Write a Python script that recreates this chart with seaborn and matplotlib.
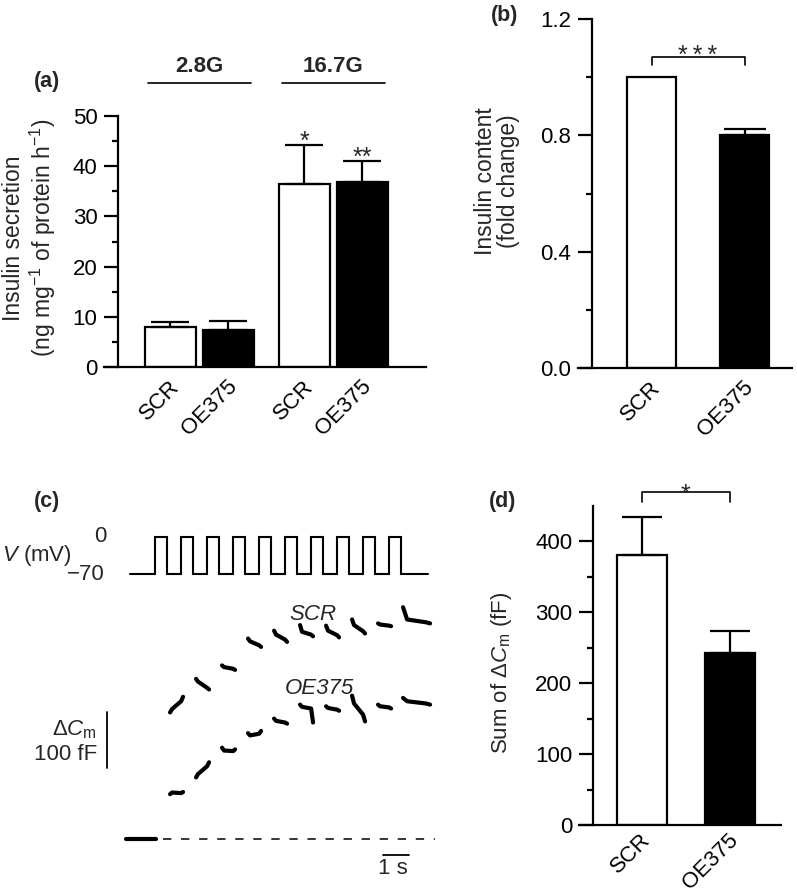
import numpy as np
import pandas as pd
import matplotlib
matplotlib.use("Agg")
import matplotlib.pyplot as plt
import seaborn as sns
from matplotlib.ticker import FixedLocator, FormatStrFormatter
from matplotlib.transforms import ScaledTranslation

# ------------------------------------------------------------------ data
# (a) insulin secretion, order: 2.8G SCR, 2.8G OE375, 16.7G SCR, 16.7G OE375
a_groups = ["2.8G", "16.7G"]
a_constructs = ["SCR", "OE375"]
a_mean = [8.0, 7.3, 36.5, 36.9]
a_sem = [1.0, 1.8, 7.8, 4.1]
a_stars = ["", "", "*", "**"]

# (b) insulin content
b_labels = ["SCR", "OE375"]
b_mean = [1.0, 0.80]
b_sem = [0.0, 0.022]
b_star = "*\u2009*\u2009*"

# (c) capacitance recording
pulse_onsets_s = [0, 1, 2, 3, 4, 5, 6, 7, 8, 9]
pulse_width_s = 0.48
v_hold_mV = -70
v_step_mV = 0
seg_start_s = [0.58, 1.58, 2.58, 3.58, 4.58, 5.58, 6.58, 7.58, 8.58, 9.54]
seg_end_s = [1.08, 2.08, 3.08, 4.08, 5.08, 6.08, 7.08, 8.08, 9.08, 10.58]
seg_frac = [0.0, 0.15, 0.85, 1.0]
scr_fF = [
    [226, 232, 246, 254],
    [286, 281, 270, 267],
    [310, 307, 304, 302],
    [358, 353, 346, 343],
    [372, 365, 356, 352],
    [382, 370, 365, 362],
    [381, 372, 364, 360],
    [392, 382, 371, 367],
    [385, 383, 381, 380],
    [414, 392, 387, 385],
]
oe_fF = [
    [80, 83, 82, 84],
    [110, 116, 130, 137],
    [163, 158, 157, 160],
    [189, 185, 188, 193],
    [215, 211, 208, 206],
    [240, 236, 233, 208],
    [237, 234, 231, 229],
    [256, 242, 222, 210],
    [240, 237, 235, 233],
    [252, 246, 242, 240],
]
pre_span_s = [-1.12, 0.04]
baseline_span_s = [0.30, 10.78]
scale_cap_fF = 100
scale_time_s = 1

# (d) sum of capacitance
d_labels = ["SCR", "OE375"]
d_mean = [381, 243]
d_sem = [53, 30]
d_star = "*"

# ------------------------------------------------------------------ style
sns.set_theme(style="ticks")
plt.rcParams["font.family"] = ["Liberation Sans", "DejaVu Sans"]
plt.rcParams["mathtext.fontset"] = "custom"
plt.rcParams["mathtext.rm"] = "Liberation Sans"
plt.rcParams["mathtext.it"] = "Liberation Sans:italic"
plt.rcParams["mathtext.bf"] = "Liberation Sans:bold"
plt.rcParams["lines.scale_dashes"] = False

W, H = 797, 892
fig = plt.figure(figsize=(W / 100, H / 100), dpi=100)
fig.patch.set_facecolor("white")


def rect(l, t, r, b):
    return [l / W, 1 - b / H, (r - l) / W, (b - t) / H]


def fx(px):
    return px / W


def fy(py):
    return 1 - py / H


LW = 1.6
FS = 16
STAR_FS = 18


def style_bar_axis(ax, xlim, spine_x, ylim, major, minor):
    ax.set_xlim(*xlim)
    ax.set_ylim(*ylim)
    ax.spines["left"].set_position(("data", spine_x))
    for s in ["top", "right"]:
        ax.spines[s].set_visible(False)
    for s in ["left", "bottom"]:
        ax.spines[s].set_linewidth(LW)
        ax.spines[s].set_color("black")
    ax.yaxis.set_major_locator(FixedLocator(major))
    ax.yaxis.set_minor_locator(FixedLocator(minor))
    ax.tick_params(axis="y", which="major", length=10, width=LW, direction="out",
                   labelsize=FS, pad=5, color="black", labelcolor="black")
    ax.tick_params(axis="y", which="minor", length=4, width=LW, direction="out",
                   color="black")
    ax.tick_params(axis="x", which="both", length=0, labelsize=FS, pad=6.5,
                   labelcolor="black")
    ax.set_xlabel("")
    ax.set_ylabel("")
    ax.set_facecolor("white")


def set_rot_labels(ax, centers, labels, dx=0.13, dy=0.0):
    ax.set_xticks(centers)
    ax.set_xticklabels(labels, rotation=45, ha="right", va="top")
    off = ScaledTranslation(dx, dy, fig.dpi_scale_trans)
    for lab in ax.get_xticklabels():
        lab.set_transform(lab.get_transform() + off)


def bar_centers(ax):
    ps = sorted(ax.patches, key=lambda p: p.get_x())
    return [p.get_x() + p.get_width() / 2 for p in ps]


pal = {"SCR": "white", "OE375": "black"}

# ------------------------------------------------------------------ (a)
ax_a = fig.add_axes(rect(104, 116, 426, 367))
df_a = pd.DataFrame({"group": np.repeat(a_groups, 2),
                     "construct": a_constructs * 2,
                     "value": a_mean})
sns.barplot(data=df_a, x="group", y="value", hue="construct", order=a_groups,
            hue_order=a_constructs, palette=pal, edgecolor="black", linewidth=LW,
            width=0.86, gap=0.116, errorbar=None, legend=False, saturation=1, ax=ax_a)
ca = bar_centers(ax_a)
ax_a.errorbar(ca, a_mean, yerr=[np.zeros(len(a_sem)), a_sem], fmt="none",
              ecolor="black", elinewidth=LW, capsize=14, capthick=LW, zorder=1)
style_bar_axis(ax_a, (-0.711, 1.692), -0.605, (0, 50), [0, 10, 20, 30, 40, 50],
               [5, 15, 25, 35, 45])
set_rot_labels(ax_a, ca, a_constructs * 2)
for x, m, e, s in zip(ca, a_mean, a_sem, a_stars):
    if s:
        ax_a.text(x, m + e - 0.75, s, ha="center", va="baseline",
                  fontsize=STAR_FS, clip_on=False)
# group headers
for gi, g in enumerate(a_groups):
    ax_a.plot([gi - 0.384, gi + 0.384], [56.6, 56.6], color="black", lw=1.2,
              clip_on=False)
    ax_a.text(gi, 57.8, g, ha="center", va="bottom", fontsize=FS,
              fontweight="bold", clip_on=False)
fig.text(fx(30), fy(238), "Insulin secretion\n(ng mg$^{-1}$ of protein h$^{-1}$)",
         rotation=90, ha="center", va="center", fontsize=16.5,
         multialignment="center", linespacing=1.15)
fig.text(fx(47), fy(82), "(a)", ha="center", va="center", fontsize=15.5,
         fontweight="bold")

# ------------------------------------------------------------------ (b)
ax_b = fig.add_axes(rect(578, 19, 792, 368))
df_b = pd.DataFrame({"construct": b_labels, "value": b_mean})
sns.barplot(data=df_b, x="construct", y="value", hue="construct", order=b_labels,
            palette=pal, edgecolor="black", linewidth=LW, width=0.527,
            errorbar=None, legend=False, saturation=1, ax=ax_b)
cb = bar_centers(ax_b)
for x, m, e in zip(cb, b_mean, b_sem):
    if e > 0:
        ax_b.errorbar([x], [m], yerr=[[0], [e]], fmt="none", ecolor="black",
                      elinewidth=LW, capsize=15, capthick=LW, zorder=1)
style_bar_axis(ax_b, (-0.79, 1.51), -0.64, (0, 1.2), [0.0, 0.4, 0.8, 1.2],
               [0.2, 0.6, 1.0])
ax_b.yaxis.set_major_formatter(FormatStrFormatter("%.1f"))
set_rot_labels(ax_b, cb, b_labels)
ax_b.plot([cb[0], cb[0], cb[1], cb[1]], [1.042, 1.0695, 1.0695, 1.042],
          color="black", lw=1.2, clip_on=False)
ax_b.text((cb[0] + cb[1]) / 2, 1.049, b_star, ha="center", va="baseline",
          fontsize=STAR_FS, clip_on=False)
fig.text(fx(497), fy(181), "Insulin content\n(fold change)", rotation=90,
         ha="center", va="center", fontsize=16.5, multialignment="center",
         linespacing=1.05)
fig.text(fx(505), fy(16), "(b)", ha="center", va="center", fontsize=15.5,
         fontweight="bold")

# ------------------------------------------------------------------ (c)
ax_v = fig.add_axes(rect(0, 520, 445, 590))
ax_c = fig.add_axes(rect(0, 600, 445, 880))
xl = (-5.96, 11.154)
ax_v.set_xlim(*xl)
ax_v.set_ylim(-100.27, 32.16)
ax_c.set_xlim(*xl)
ax_c.set_ylim(-73.2, 426.8)

tv, vv = [-0.96], [v_hold_mV]
for on in pulse_onsets_s:
    tv += [on, on, on + pulse_width_s, on + pulse_width_s]
    vv += [v_hold_mV, v_step_mV, v_step_mV, v_hold_mV]
tv.append(10.5)
vv.append(v_hold_mV)
ax_v.plot(tv, vv, color="black", lw=1.5, solid_joinstyle="miter")

rows = []
for k in range(len(seg_start_s)):
    for f, cs, co in zip(seg_frac, scr_fF[k], oe_fF[k]):
        t = seg_start_s[k] + f * (seg_end_s[k] - seg_start_s[k])
        rows.append(dict(t=t, c=cs, seg=f"scr{k}"))
        rows.append(dict(t=t, c=co, seg=f"oe{k}"))
rows.append(dict(t=pre_span_s[0], c=0, seg="pre"))
rows.append(dict(t=pre_span_s[1], c=0, seg="pre"))
df_c = pd.DataFrame(rows)
sns.lineplot(data=df_c, x="t", y="c", units="seg", estimator=None, color="black",
             lw=3.0, sort=False, ax=ax_c)
ax_c.plot(baseline_span_s, [0, 0], color="black", lw=1.1, dashes=(6, 7))
# scale bars
ax_c.plot([-1.846, -1.846], [127, 127 + scale_cap_fF], color="black", lw=1.3)
ax_c.plot([8.77, 8.77 + scale_time_s], [-28.6, -28.6], color="black", lw=1.3)
for ax in (ax_v, ax_c):
    ax.set_axis_off()

fig.text(fx(393), fy(869), "1 s", ha="center", va="center", fontsize=FS)
fig.text(fx(97), fy(730), r"$\mathit{\Delta C}_{\mathrm{m}}$", ha="right",
         va="center", fontsize=FS)
fig.text(fx(97), fy(755), "100 fF", ha="right", va="center", fontsize=FS)
fig.text(fx(313), fy(615), "SCR", ha="center", va="center", fontsize=FS,
         style="italic")
fig.text(fx(319), fy(688), "OE375", ha="center", va="center", fontsize=FS,
         style="italic")
fig.text(fx(100), fy(537), "0", ha="center", va="center", fontsize=FS)
fig.text(fx(105), fy(575), "\u221270", ha="right", va="center", fontsize=FS)
fig.text(fx(72), fy(555), r"$\mathit{V}$ (mV)", ha="right", va="center",
         fontsize=FS)
fig.text(fx(47), fy(502), "(c)", ha="center", va="center", fontsize=15.5,
         fontweight="bold")

# ------------------------------------------------------------------ (d)
ax_d = fig.add_axes(rect(579, 506, 781, 825))
df_d = pd.DataFrame({"construct": d_labels, "value": d_mean})
sns.barplot(data=df_d, x="construct", y="value", hue="construct", order=d_labels,
            palette=pal, edgecolor="black", linewidth=LW, width=0.568,
            errorbar=None, legend=False, saturation=1, ax=ax_d)
cd = bar_centers(ax_d)
ax_d.errorbar(cd, d_mean, yerr=[np.zeros(len(d_sem)), d_sem], fmt="none",
              ecolor="black", elinewidth=LW, capsize=14.5, capthick=LW, zorder=1)
style_bar_axis(ax_d, (-0.716, 1.58), -0.557, (0, 450), [0, 100, 200, 300, 400],
               [50, 150, 250, 350])
set_rot_labels(ax_d, cd, d_labels, dx=0.13, dy=0.045)
ax_d.plot([cd[0], cd[0], cd[1], cd[1]], [455, 469.3, 469.3, 455], color="black",
          lw=1.2, clip_on=False)
ax_d.text((cd[0] + cd[1]) / 2, 456.5, d_star, ha="center", va="baseline",
          fontsize=STAR_FS, clip_on=False)
fig.text(fx(502), fy(673), r"Sum of $\mathit{\Delta C}_{\mathrm{m}}$ (fF)",
         rotation=90, ha="center", va="center", fontsize=FS)
fig.text(fx(503), fy(502), "(d)", ha="center", va="center", fontsize=15.5,
         fontweight="bold")

fig.savefig("out.png", dpi=100, facecolor="white")
